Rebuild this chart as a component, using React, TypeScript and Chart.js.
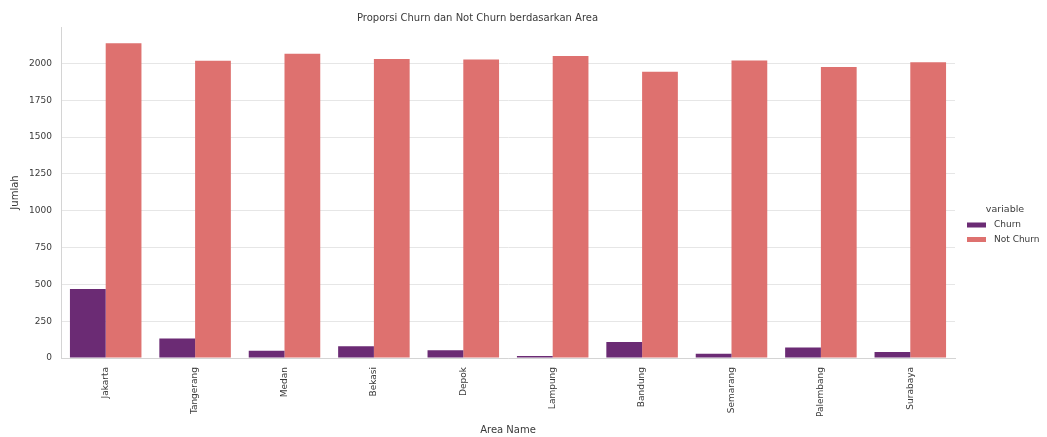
import React, { useEffect, useRef } from "react";
import { Chart, registerables } from "chart.js";

Chart.register(...registerables);

const areas = ["Jakarta", "Tangerang", "Medan", "Bekasi", "Depok", "Lampung", "Bandung", "Semarang", "Palembang", "Surabaya"];
const churn = [468, 133, 50, 79, 52, 13, 108, 29, 72, 41];
const notChurn = [2136, 2018, 2065, 2029, 2027, 2050, 1943, 2020, 1975, 2007];
const seriesNames = ["Churn", "Not Churn"];
const seriesColors = ["#6b2b74", "#de716f"];
const yTicks = [0, 250, 500, 750, 1000, 1250, 1500, 1750, 2000];
const yMax = 2247;

const FONT = "'DejaVu Sans', sans-serif";
const TEXT = "#3a3a3a";

const legendPlugin = {
  id: "sideLegend",
  afterDraw(chart: any) {
    const ctx = chart.ctx;
    ctx.save();
    ctx.font = `9.5px ${FONT}`;
    ctx.fillStyle = TEXT;
    ctx.textAlign = "center";
    ctx.textBaseline = "middle";
    ctx.fillText("variable", 1005, 210);
    chart.data.datasets.forEach((ds: any, i: number) => {
      const y = 225 + i * 14.5;
      ctx.fillStyle = ds.backgroundColor;
      ctx.fillRect(967, y - 2.5, 19, 5);
      ctx.fillStyle = TEXT;
      ctx.textAlign = "left";
      ctx.font = `9px ${FONT}`;
      ctx.fillText(ds.label, 994, y);
    });
    ctx.restore();
  },
};

export default function App() {
  const ref = useRef<HTMLCanvasElement | null>(null);
  useEffect(() => {
    if (!ref.current) return;
    const chart = new Chart(ref.current, {
      type: "bar",
      data: {
        labels: areas,
        datasets: [
          { label: seriesNames[0], data: churn, backgroundColor: seriesColors[0], borderWidth: 0 },
          { label: seriesNames[1], data: notChurn, backgroundColor: seriesColors[1], borderWidth: 0 },
        ],
      },
      options: {
        responsive: false,
        animation: false,
        layout: { padding: { left: 0, right: 92, top: 0, bottom: 0 } },
        datasets: { bar: { categoryPercentage: 0.8, barPercentage: 1.0 } },
        plugins: {
          legend: { display: false },
          tooltip: { enabled: false },
          title: {
            display: true,
            text: "Proporsi Churn dan Not Churn berdasarkan Area",
            font: { family: FONT, size: 10, weight: "normal" },
            color: TEXT,
            padding: { top: 12, bottom: 3 },
          },
        },
        scales: {
          x: {
            grid: { display: false, drawTicks: false },
            border: { display: true, color: "#d4d4d4", width: 1 },
            ticks: {
              font: { family: FONT, size: 9 },
              color: TEXT,
              maxRotation: 90,
              minRotation: 90,
              padding: 9,
              autoSkip: false,
            },
            title: {
              display: true,
              text: "Area Name",
              font: { family: FONT, size: 10 },
              color: TEXT,
              padding: { top: 0, bottom: 1 },
            },
            afterFit(scale: any) {
              scale.height = 79;
            },
          },
          y: {
            min: 0,
            max: yMax,
            grid: { color: "#e6e6e6", lineWidth: 1, drawTicks: false },
            border: { display: true, color: "#d4d4d4", width: 1 },
            afterBuildTicks(scale: any) {
              scale.ticks = yTicks.map((v) => ({ value: v }));
            },
            ticks: {
              font: { family: FONT, size: 9 },
              color: TEXT,
              padding: 9,
              callback: (v: any) => String(v),
            },
            title: {
              display: true,
              text: "Jumlah",
              font: { family: FONT, size: 10 },
              color: TEXT,
              padding: { top: 9, bottom: 0 },
            },
            afterFit(scale: any) {
              scale.width = 61;
            },
          },
        },
      },
      plugins: [legendPlugin],
    } as any);
    return () => chart.destroy();
  }, []);
  return (
    <div style={{ position: "fixed", left: 0, top: 0, width: 1047, height: 437, background: "#fff" }}>
      <canvas ref={ref} width={1047} height={437} />
    </div>
  );
}
